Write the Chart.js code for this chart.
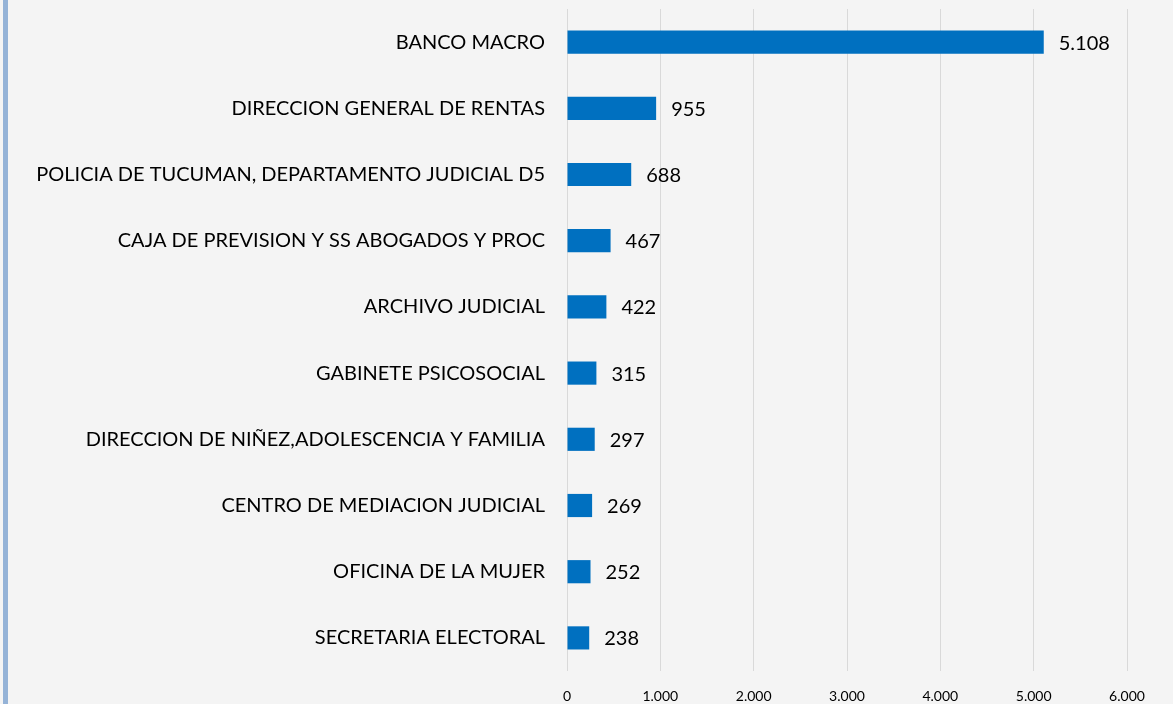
<!DOCTYPE html>
<html><head><meta charset="utf-8">
<script src="https://cdn.jsdelivr.net/npm/chart.js@4"></script>
<style>
html,body{margin:0;padding:0;background:#f4f4f4;}
#wrap{position:relative;width:1173px;height:704px;background:#f4f4f4;}
#bar{position:absolute;left:3px;top:0;width:5px;height:704px;background:#95b3d7;}
canvas{position:absolute;left:0;top:0;}
</style></head>
<body>
<div id="wrap"><div id="bar"></div><canvas id="c" width="1173" height="704"></canvas></div>
<script>
const categories = ["BANCO MACRO","DIRECCION GENERAL DE RENTAS","POLICIA DE TUCUMAN, DEPARTAMENTO JUDICIAL D5","CAJA DE PREVISION Y SS ABOGADOS Y PROC","ARCHIVO JUDICIAL","GABINETE PSICOSOCIAL","DIRECCION DE NIÑEZ,ADOLESCENCIA Y FAMILIA","CENTRO DE MEDIACION JUDICIAL","OFICINA DE LA MUJER","SECRETARIA ELECTORAL"];
const values = [5108,955,688,467,422,315,297,269,252,238];
const tickValues = [0,1000,2000,3000,4000,5000,6000];

const fmt = v => v.toString().replace(/\B(?=(\d{3})+(?!\d))/g, ".");

const labelPlugin = {
  id:'valLabels',
  afterDatasetsDraw(chart){
    const ctx = chart.ctx;
    const meta = chart.getDatasetMeta(0);
    ctx.save();
    ctx.font = '20px Lato';
    ctx.fillStyle = '#000';
    ctx.textBaseline = 'middle';
    ctx.textAlign = 'left';
    meta.data.forEach((el,i)=>{
      ctx.fillText(fmt(values[i]), el.x + 15, el.y + 1);
    });
    ctx.restore();
  }
};

new Chart(document.getElementById('c'), {
  type:'bar',
  data:{labels:categories, datasets:[{data:values, backgroundColor:'#0070c0', barPercentage:0.35, categoryPercentage:1}]},
  options:{
    indexAxis:'y',
    responsive:false,
    animation:false,
    layout:{padding:{top:9,right:46,left:0,bottom:0}},
    plugins:{legend:{display:false},tooltip:{enabled:false}},
    scales:{
      x:{min:0,max:6000,
        afterBuildTicks(axis){axis.ticks = tickValues.map(v=>({value:v}));},
        afterFit(axis){axis.height=33;},
        ticks:{callback:v=>fmt(v), color:'#000', font:{family:'Lato',size:14}, padding:17, maxRotation:0},
        grid:{color:'#d9d9d9', lineWidth:1, drawTicks:true, tickLength:0},
        border:{display:false}
      },
      y:{
        afterFit(axis){axis.paddingTop=0; axis.paddingBottom=0; axis.width=567;},
        ticks:{color:'#000', font:{family:'Lato',size:20}, padding:14},
        grid:{display:false},
        border:{display:false}
      }
    }
  },
  plugins:[labelPlugin]
});
</script>
</body></html>
